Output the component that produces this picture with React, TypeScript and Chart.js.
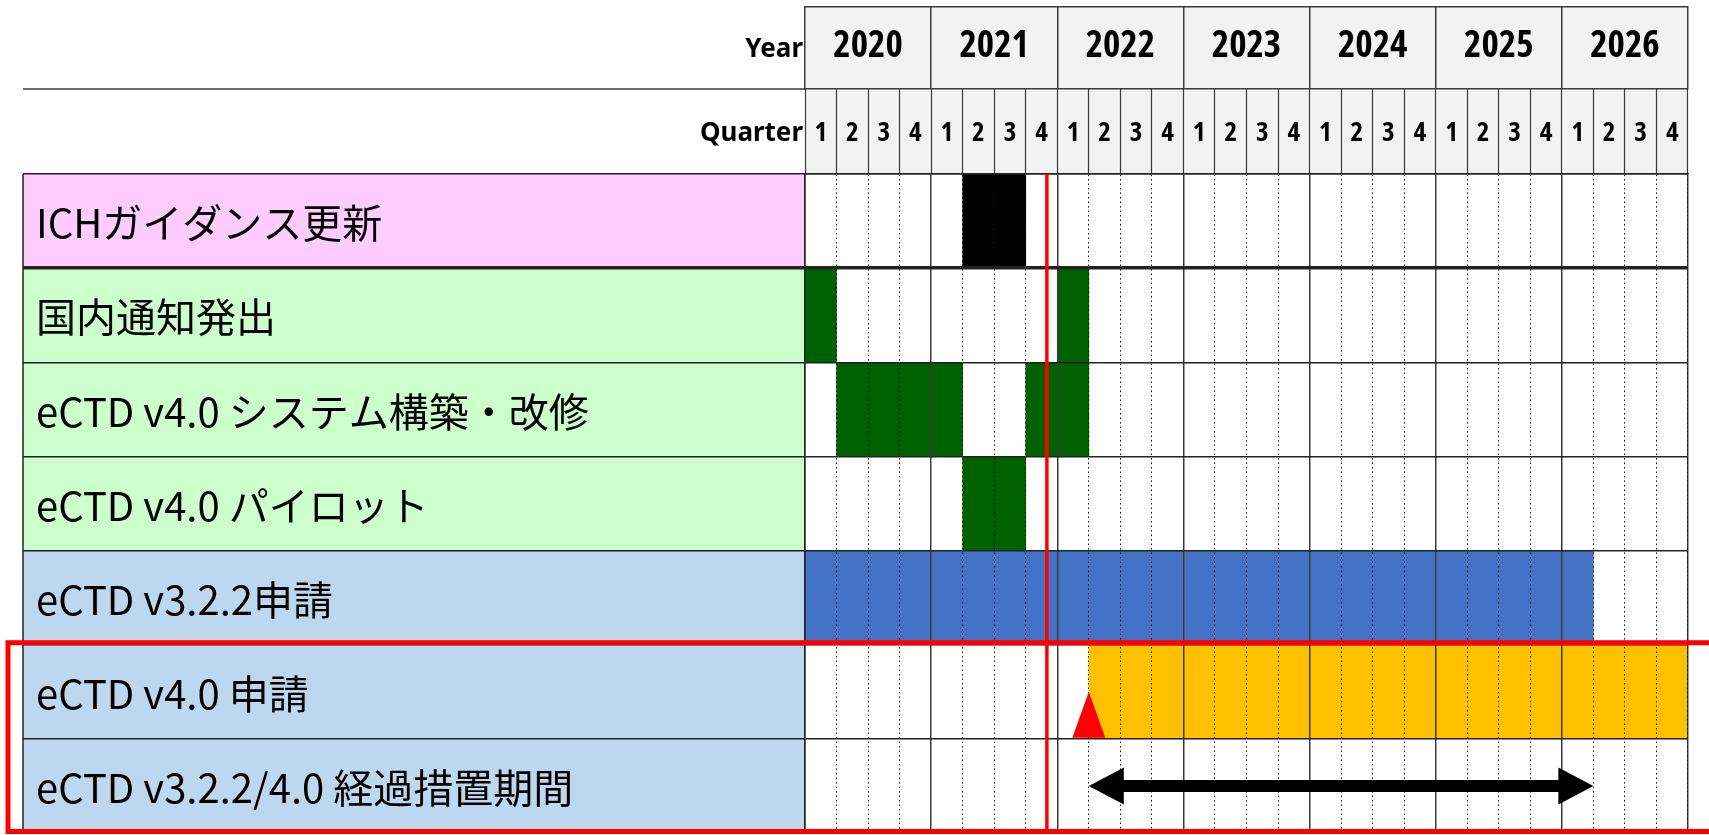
import React, { useEffect, useRef } from 'react';
import { Chart, registerables } from 'chart.js';

Chart.register(...registerables);

// ---- data ----
const rowLabels = [
  'ICHガイダンス更新',
  '国内通知発出',
  'eCTD v4.0 システム構築・改修',
  'eCTD v4.0 パイロット',
  'eCTD v3.2.2申請',
  'eCTD v4.0 申請',
  'eCTD v3.2.2/4.0 経過措置期間',
];
const years = ['2020', '2021', '2022', '2023', '2024', '2025', '2026'];
const quarterNames = ['1', '2', '3', '4'];

// spans in quarters, counted from the start of 2020 Q1 (= 0)
const ichGuidanceSpans = [[5, 7]];
const domesticNoticeSpans = [[0, 1], [8, 9]];
const systemBuildSpans = [[1, 5], [7, 9]];
const pilotSpans = [[5, 7]];
const v322SubmissionSpans = [[0, 25]];
const v40SubmissionSpans = [[9, 28]];
const transitionPeriod = [9, 25];
const v40StartMarker = 9;
const currentDateMarker = 7.67;

// ---- styles ----
const rowLabelFills = ['#ffccff', '#ccffcc', '#ccffcc', '#ccffcc', '#bdd7ee', '#bdd7ee', '#bdd7ee'];
const LABEL_LEFT = 23;
const JP = '"Noto Sans CJK JP", "Noto Sans", sans-serif';
const HEAD = '"Open Sans", "Noto Sans", sans-serif';

const quarterLabels = years.flatMap(() => quarterNames);
const toBars = (spans: number[][], row: number) =>
  spans.map(([a, b]) => ({ x: [a, b], y: rowLabels[row] }));

const ganttDecor = {
  id: 'ganttDecor',
  beforeDraw(chart: any) {
    const { ctx, chartArea, scales } = chart;
    const yS = scales.y, xY = scales.xY, xQ = scales.xQ;
    ctx.save();
    ctx.fillStyle = '#f2f2f2';
    ctx.fillRect(xY.left, xY.top, xY.right - xY.left, xQ.bottom - xY.top);
    const h = (chartArea.bottom - chartArea.top) / rowLabels.length;
    rowLabels.forEach((_, i) => {
      const c = yS.getPixelForValue(i);
      ctx.fillStyle = rowLabelFills[i];
      ctx.fillRect(LABEL_LEFT, c - h / 2, chartArea.left - LABEL_LEFT, h);
    });
    ctx.strokeStyle = '#3a3a3a';
    ctx.lineWidth = 1.5;
    ctx.beginPath();
    ctx.moveTo(xY.left, xY.top + 0.75);
    ctx.lineTo(xY.right, xY.top + 0.75);
    ctx.moveTo(LABEL_LEFT, xY.bottom);
    ctx.lineTo(chartArea.left, xY.bottom);
    ctx.stroke();
    ctx.fillStyle = '#000';
    ctx.font = 'bold 26px "Noto Sans", sans-serif';
    ctx.textAlign = 'right';
    ctx.textBaseline = 'middle';
    ctx.fillText('Year', chartArea.left - 2, (xY.top + xY.bottom) / 2 + 2);
    ctx.fillText('Quarter', chartArea.left - 2, (xQ.top + xQ.bottom) / 2 + 2);
    ctx.restore();
  },
  afterDraw(chart: any) {
    const { ctx, chartArea, scales } = chart;
    const yS = scales.y, x = scales.x;
    const h = (chartArea.bottom - chartArea.top) / rowLabels.length;
    ctx.save();
    // label column left border
    ctx.strokeStyle = '#222';
    ctx.lineWidth = 1.5;
    ctx.beginPath();
    ctx.moveTo(LABEL_LEFT, chartArea.top);
    ctx.lineTo(LABEL_LEFT, chartArea.bottom);
    ctx.stroke();

    // current date marker
    const cx = x.getPixelForValue(currentDateMarker);
    ctx.strokeStyle = '#ff0000';
    ctx.lineWidth = 3.5;
    ctx.beginPath();
    ctx.moveTo(cx, chartArea.top);
    ctx.lineTo(cx, chartArea.bottom);
    ctx.stroke();

    // v4.0 start triangle
    const tx = x.getPixelForValue(v40StartMarker);
    const rc = yS.getPixelForValue(5);
    ctx.fillStyle = '#ff0000';
    ctx.beginPath();
    ctx.moveTo(tx, rc);
    ctx.lineTo(tx + 16.5, rc + h / 2 - 1);
    ctx.lineTo(tx - 16.5, rc + h / 2 - 1);
    ctx.closePath();
    ctx.fill();

    // transition period double arrow
    const ay = yS.getPixelForValue(6);
    const a1 = x.getPixelForValue(transitionPeriod[0]);
    const a2 = x.getPixelForValue(transitionPeriod[1]);
    const hl = 35, hh = 18.5, sh = 6;
    ctx.fillStyle = '#000';
    ctx.beginPath();
    ctx.moveTo(a1, ay);
    ctx.lineTo(a1 + hl, ay - hh);
    ctx.lineTo(a1 + hl, ay - sh);
    ctx.lineTo(a2 - hl, ay - sh);
    ctx.lineTo(a2 - hl, ay - hh);
    ctx.lineTo(a2, ay);
    ctx.lineTo(a2 - hl, ay + hh);
    ctx.lineTo(a2 - hl, ay + sh);
    ctx.lineTo(a1 + hl, ay + sh);
    ctx.lineTo(a1 + hl, ay + hh);
    ctx.closePath();
    ctx.fill();

    // highlight box around the v4.0 rows
    const top = yS.getPixelForValue(5) - h / 2 - 2;
    const bottom = chartArea.bottom - 1.5;
    ctx.strokeStyle = '#ff0000';
    ctx.lineWidth = 5;
    ctx.strokeRect(8, top, 1800, bottom - top);
    ctx.restore();
  },
};

export default function App() {
  const ref = useRef<HTMLCanvasElement>(null);
  useEffect(() => {
    document.body.style.margin = '0';
    document.body.style.overflow = 'hidden';
    const common = {
      barPercentage: 1,
      categoryPercentage: 1,
      grouped: false,
      borderWidth: 0,
      borderSkipped: false,
      xAxisID: 'x',
      yAxisID: 'y',
    };
    const chart = new Chart(ref.current as HTMLCanvasElement, {
      type: 'bar',
      data: {
        datasets: [
          { ...common, label: 'ICH', data: toBars(ichGuidanceSpans, 0), backgroundColor: '#000000' },
          {
            ...common,
            label: 'domestic',
            data: [
              ...toBars(domesticNoticeSpans, 1),
              ...toBars(systemBuildSpans, 2),
              ...toBars(pilotSpans, 3),
            ],
            backgroundColor: '#006100',
          },
          { ...common, label: 'v3.2.2', data: toBars(v322SubmissionSpans, 4), backgroundColor: '#4472c4' },
          { ...common, label: 'v4.0', data: toBars(v40SubmissionSpans, 5), backgroundColor: '#ffc000' },
        ] as any,
      },
      options: {
        indexAxis: 'y',
        animation: false,
        responsive: false,
        maintainAspectRatio: false,
        layout: { padding: { left: 36, right: 21, top: 6, bottom: 2 } },
        plugins: { legend: { display: false }, tooltip: { enabled: false } },
        scales: {
          x: { type: 'linear', min: 0, max: 28, display: false },
          xY: {
            type: 'category',
            position: 'top',
            labels: years,
            offset: true,
            weight: 2,
            grid: {
              offset: true,
              drawOnChartArea: true,
              color: '#3a3a3a',
              lineWidth: 1.5,
              tickLength: 83,
              tickColor: '#3a3a3a',
              tickWidth: 1.5,
              z: 1,
            },
            border: { display: true, color: '#3a3a3a', width: 1.5, z: 1 },
            ticks: {
              autoSkip: false,
              maxRotation: 0,
              color: '#000',
              font: { family: HEAD, size: 37, weight: 'bold condensed' },
              padding: -63,
            },
            afterFit: (s: any) => { s.height = 83; },
          },
          xQ: {
            type: 'category',
            position: 'top',
            labels: quarterLabels,
            offset: true,
            weight: 1,
            grid: {
              offset: true,
              drawOnChartArea: true,
              color: (c: any) => (c.index % 4 === 0 ? 'rgba(0,0,0,0)' : '#111'),
              lineWidth: 1,
              tickLength: 85,
              tickColor: '#3a3a3a',
              tickWidth: 1.2,
              z: 1,
            },
            border: { display: true, color: '#3a3a3a', width: 1.5, dash: [1.5, 3], z: 1 },
            ticks: {
              autoSkip: false,
              maxRotation: 0,
              color: '#000',
              font: { family: HEAD, size: 27, weight: 'bold condensed' },
              padding: -61,
            },
            afterFit: (s: any) => { s.height = 85; },
          },
          y: {
            type: 'category',
            labels: rowLabels,
            offset: true,
            grid: {
              offset: true,
              color: '#222',
              lineWidth: (c: any) => (c.index === 1 ? 3.5 : 1.5),
              tickLength: 782,
              tickColor: '#222',
              tickWidth: (c: any) => (c.index === 1 ? 3.5 : 1.5),
              z: 1,
            },
            border: { display: true, color: '#222', width: 1.5, z: 1 },
            ticks: {
              autoSkip: false,
              crossAlign: 'far',
              color: '#000',
              font: { family: JP, size: 40 },
              labelOffset: 2,
              padding: 0,
            },
            afterFit: (s: any) => {
              s.width = 769;
              s.paddingTop = 0;
              s.paddingBottom = 0;
            },
          },
        } as any,
      },
      plugins: [ganttDecor],
    } as any);
    return () => chart.destroy();
  }, []);
  return (
    <div style={{ width: 1709, height: 835, background: '#fff' }}>
      <canvas ref={ref} width={1709} height={835} style={{ display: 'block' }} />
    </div>
  );
}
